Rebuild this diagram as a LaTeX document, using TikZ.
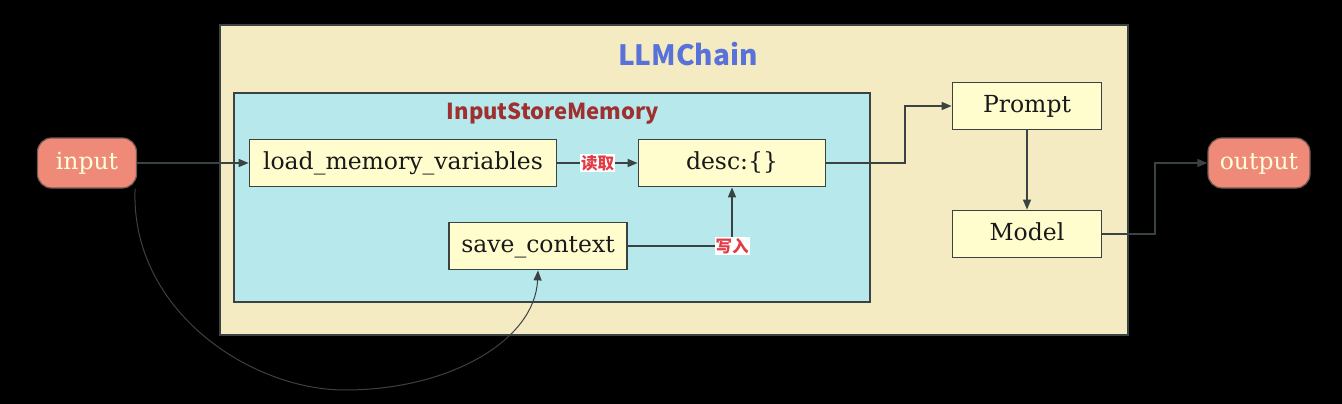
\documentclass[tikz,border=0pt]{standalone}
\usepackage{fontspec}
\newfontfamily\cjk{Noto Sans CJK SC}
\newfontfamily\boxfont{DejaVu Serif}
\usetikzlibrary{arrows.meta}
\definecolor{bgout}{RGB}{245,235,194}
\definecolor{bgin}{RGB}{182,232,236}
\definecolor{nodefill}{RGB}{255,253,206}
\definecolor{edge}{RGB}{58,66,66}
\definecolor{salmon}{RGB}{240,138,120}
\definecolor{titleblue}{RGB}{88,114,218}
\definecolor{titlered}{RGB}{160,48,48}
\definecolor{lblred}{RGB}{225,60,70}
\tikzset{
  box/.style={draw=edge, line width=1.8pt, fill=nodefill, minimum height=47pt, inner sep=0pt, text=black!90, text height=17pt, text depth=5pt, font=\boxfont\fontsize{23.5}{26}\selectfont},
  term/.style={draw=edge!70!salmon, line width=1.2pt, fill=salmon, rounded corners=14pt, minimum height=50pt, inner sep=0pt, text=nodefill!70!white, text height=17pt, text depth=5pt, font=\boxfont\fontsize{23.5}{26}\selectfont},
  conn/.style={draw=edge, line width=1.4pt, -{Triangle[length=10pt,width=8pt]}},
  lbl/.style={fill=white, inner sep=1pt, text=lblred, font=\cjk\bfseries\fontsize{16.5}{18}\selectfont}
}
\begin{document}
\begin{tikzpicture}[x=1pt,y=-1pt]
\fill[black] (0,0) rectangle (1342,404);
\useasboundingbox (0,0) rectangle (1342,404);
\draw[draw=edge, line width=1.4pt, fill=bgout] (220,25) rectangle (1128,335);
\node[font=\cjk\bfseries\fontsize{28}{30}\selectfont, text=titleblue] (chain) at (688,54) {LLMChain};
\draw[draw=edge, line width=1.4pt, fill=bgin] (234,93) rectangle (870,302);
\node[font=\cjk\bfseries\fontsize{22}{24}\selectfont, text=titlered] (mem) at (553,114) {InputStoreMemory};

\node[term, minimum width=99pt] (input) at (87,163) {input};
\node[term, minimum width=102pt] (output) at (1259,163) {output};
\node[box, minimum width=307pt] (load) at (403,163) {load\_memory\_variables};
\node[box, minimum width=187pt] (desc) at (732,163) {desc:\{\}};
\node[box, minimum width=178pt] (save) at (538,246) {save\_context};
\node[box, minimum width=149pt] (prompt) at (1027,106) {Prompt};
\node[box, minimum width=149pt] (model) at (1027,234) {Model};

\draw[conn] (input.east) -- (load.west);
\draw[conn] (load.east) -- node[lbl] {读取} (desc.west);
\draw[conn] (save.east) -- (desc.south |- save.east) node[lbl, pos=1] {写入} -- (desc.south);
\draw[conn] (desc.east) -- (905,163) -- (905,106) -- (prompt.west);
\draw[conn] (prompt.south) -- (model.north);
\draw[conn] (model.east) -- (1155,234) -- (1155,163) -- (output.west);
\draw[conn, line width=1pt] (input.south east) ++(-2,0) .. controls (130,310) and (250,390) .. (345,390) .. controls (450,390) and (535,340) .. (save.south);
\end{tikzpicture}
\end{document}
